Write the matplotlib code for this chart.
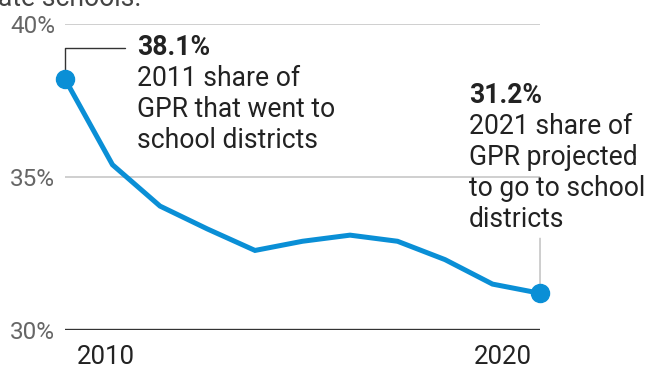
import numpy as np
import matplotlib
matplotlib.use("Agg")
import matplotlib.pyplot as plt

plt.rcParams['font.family'] = ['Roboto', 'DejaVu Sans']

years = [2011, 2012, 2013, 2014, 2015, 2016, 2017, 2018, 2019, 2020, 2021]
share = [38.2, 35.4, 34.05, 33.3, 32.6, 32.9, 33.1, 32.9, 32.3, 31.5, 31.2]
yticks = [30, 35, 40]
ytick_labels = ['30%', '35%', '40%']
xtick_labels = ['2010', '2020']
xtick_pos = [2011.86, 2020.22]

first_note = ['38.1%', '2011 share of', 'GPR that went to', 'school districts']
last_note = ['31.2%', '2021 share of', 'GPR projected', 'to go to school', 'districts']

blue = '#0a8fd6'
dark = '#222222'
px = 0.72  # points per pixel at dpi 100
fs = 19.1

fig = plt.figure(figsize=(6.5, 3.7), dpi=100)
ax = fig.add_axes([0.1, 0.1081, 0.7308, 0.827])

# cut-off subtitle at the very top
fig.text(-0.003, 1 - 6 / 370, 'ate schools.', fontsize=fs, color='#444444',
         va='baseline', ha='left')

for y in yticks[1:]:
    ax.axhline(y, color='#cccccc', lw=1.3, zorder=1)
ax.axhline(30, color='#333333', lw=2.4, zorder=2)

ax.plot(years, share, color=blue, lw=3.6, solid_joinstyle='miter', zorder=3)
ax.plot([years[0], years[-1]], [share[0], share[-1]], 'o', color=blue,
        ms=13, zorder=4, clip_on=False)

ax.set_xlim(years[0], years[-1])
ax.set_ylim(30, 40)
ax.set_yticks(yticks)
ax.set_yticklabels(ytick_labels)
ax.set_xticks(xtick_pos)
ax.set_xticklabels(xtick_labels)
ax.tick_params(axis='y', length=0, pad=7, labelsize=17.5, labelcolor='#666666')
ax.tick_params(axis='x', length=0, pad=11, labelsize=18.5, labelcolor=dark)
for s in ax.spines.values():
    s.set_visible(False)

# connector for first point
ax.annotate('', xy=(years[0], share[0]), xytext=(60 * px, 31 * px),
            textcoords='offset points',
            arrowprops=dict(arrowstyle='-', color='#333333', lw=1.0,
                            connectionstyle='angle,angleA=0,angleB=90,rad=0',
                            shrinkA=0, shrinkB=0), zorder=2)
for i, line in enumerate(first_note):
    ax.annotate(line, xy=(years[0], share[0]),
                xytext=(72 * px, (24 - 31 * i) * px), textcoords='offset points',
                fontsize=fs, color=dark, fontweight='bold' if i == 0 else 'normal',
                va='baseline', ha='left', annotation_clip=False)

# connector for last point
ax.annotate('', xy=(years[-1], share[-1]), xytext=(0, 55 * px),
            textcoords='offset points',
            arrowprops=dict(arrowstyle='-', color='#bbbbbb', lw=1.0,
                            shrinkA=0, shrinkB=0), zorder=2)
for i, line in enumerate(last_note):
    ax.annotate(line, xy=(years[-1], share[-1]),
                xytext=(-71 * px, (190 - 31 * i) * px), textcoords='offset points',
                fontsize=fs, color=dark, fontweight='bold' if i == 0 else 'normal',
                va='baseline', ha='left', annotation_clip=False)

fig.savefig('out.png', dpi=100)
